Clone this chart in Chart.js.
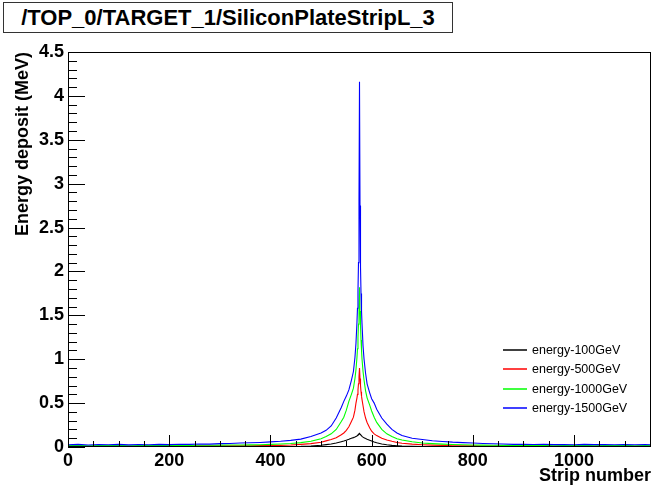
<!DOCTYPE html>
<html>
<head>
<meta charset="utf-8">
<script src="https://cdn.jsdelivr.net/npm/chart.js@4/dist/chart.umd.min.js"></script>
<style>
  html, body { margin: 0; padding: 0; background: #fff; }
  #wrap { position: relative; width: 653px; height: 489px; }
  #title {
    position: absolute; left: 3px; top: 2px; width: 450px; height: 31px;
    box-sizing: border-box; border: 1px solid #333;
    font: bold 22px "Liberation Sans", Arial, sans-serif; line-height: 29px;
    text-align: center; color: #000; background: #fff; z-index: 2;
  }
  canvas { position: absolute; left: 0; top: 0; }
</style>
</head>
<body>
<div id="wrap">
  <canvas id="c" width="653" height="489"></canvas>
  <div id="title">/TOP_0/TARGET_1/SiliconPlateStripL_3</div>
</div>
<script>
// ---- data ----
const strips = [0,20,40,60,80,100,120,140,160,180,200,220,240,260,280,300,320,340,
  360,380,400,420,440,460,480,500,
  510,520,530,540,545,550,555,560,
  564,567,569,
  571,572,573,574,575,576,577,578,579,580,581,
  583,585,588,591,
  596,600,605,610,
  620,630,640,650,660,
  680,700,720,740,760,
  780,800,820,840,860,880,900,
  920,940,960,980,1000,1020,1040,1060,1080,1100,1120,1140,1152];

const e100 = [0.003,0.003,0.002,0.003,0.003,0.002,0.003,0.003,0.003,0.002,0.003,0.003,0.003,0.003,0.003,0.003,0.004,0.004,
  0.004,0.004,0.005,0.005,0.006,0.007,0.011,0.02,
  0.027,0.035,0.045,0.06,0.068,0.078,0.088,0.1,
  0.107,0.114,0.12,
  0.126,0.132,0.138,0.144,0.15,0.155,0.148,0.141,0.134,0.128,0.122,
  0.112,0.105,0.096,0.088,
  0.078,0.068,0.056,0.048,
  0.035,0.026,0.019,0.014,0.01,
  0.007,0.005,0.004,0.004,0.003,
  0.003,0.003,0.003,0.003,0.003,0.003,0.003,
  0.003,0.003,0.003,0.003,0.003,0.003,0.003,0.003,0.003,0.003,0.003,0.003,0.003];

const e500 = [0.01,0.011,0.009,0.01,0.011,0.01,0.009,0.011,0.01,0.012,0.011,0.012,0.012,0.013,0.013,0.014,0.014,0.015,
  0.015,0.016,0.016,0.018,0.022,0.03,0.038,0.055,
  0.07,0.085,0.105,0.14,0.16,0.19,0.23,0.29,
  0.34,0.42,0.5,
  0.56,0.6,0.65,0.72,0.8,0.9,0.78,0.7,0.63,0.58,0.54,
  0.47,0.4,0.33,0.28,
  0.22,0.18,0.15,0.13,
  0.1,0.08,0.065,0.052,0.043,
  0.033,0.026,0.021,0.018,0.015,
  0.014,0.013,0.012,0.012,0.011,0.011,0.01,
  0.01,0.011,0.009,0.01,0.011,0.01,0.009,0.01,0.011,0.01,0.009,0.01,0.01];

const e1000 = [0.016,0.018,0.015,0.017,0.016,0.019,0.015,0.017,0.016,0.018,0.017,0.019,0.018,0.02,0.02,0.021,0.022,0.023,
  0.024,0.026,0.03,0.035,0.04,0.05,0.065,0.095,
  0.12,0.15,0.2,0.29,0.34,0.42,0.52,0.6,
  0.67,0.78,0.88,
  1.02,1.12,1.25,1.4,1.6,1.82,1.55,1.38,1.22,1.1,1.0,
  0.86,0.76,0.64,0.56,
  0.48,0.41,0.34,0.28,
  0.2,0.15,0.12,0.095,0.08,
  0.06,0.045,0.038,0.033,0.028,
  0.025,0.023,0.021,0.02,0.019,0.018,0.017,
  0.016,0.018,0.015,0.017,0.016,0.018,0.015,0.017,0.016,0.018,0.015,0.017,0.016];

const e1500 = [0.025,0.03,0.022,0.028,0.025,0.03,0.024,0.028,0.026,0.03,0.027,0.032,0.03,0.035,0.033,0.038,0.04,0.045,
  0.048,0.052,0.058,0.065,0.075,0.09,0.12,0.16,
  0.19,0.24,0.33,0.45,0.52,0.58,0.65,0.76,
  0.86,1.02,1.18,
  1.42,1.58,1.78,2.1,2.8,4.16,2.75,2.05,1.75,1.55,1.4,
  1.15,1.0,0.84,0.72,
  0.62,0.55,0.5,0.43,
  0.33,0.26,0.2,0.16,0.13,
  0.1,0.085,0.072,0.063,0.055,
  0.05,0.045,0.04,0.037,0.034,0.03,0.032,
  0.028,0.03,0.027,0.029,0.026,0.03,0.027,0.028,0.025,0.029,0.026,0.028,0.025];

const seriesNames = ['energy-100GeV','energy-500GeV','energy-1000GeV','energy-1500GeV'];
const seriesColors = ['#000000','#ff0000','#00ff00','#0000ff'];
const xTickValues = [0,200,400,600,800,1000];
const yTickValues = [0,0.5,1,1.5,2,2.5,3,3.5,4,4.5];
const xRange = [0, 1152];
const yRange = [0, 4.5];

// ---- build ----
const seriesValues = [e100, e500, e1000, e1500];
const datasets = seriesValues.map((vals, i) => ({
  label: seriesNames[i],
  data: strips.map((s, k) => ({x: s, y: vals[k]})),
  borderColor: seriesColors[i],
  backgroundColor: seriesColors[i],
  borderWidth: 1.1,
  pointRadius: 0,
  tension: 0,
  fill: false,
  order: 3 - i
}));

const FONT = '"Liberation Sans", Arial, sans-serif';

const rootFrame = {
  id: 'rootFrame',
  afterDraw(chart) {
    const {ctx, chartArea: a, scales: {x, y}} = chart;
    ctx.save();
    ctx.strokeStyle = '#000';
    ctx.lineWidth = 1;
    ctx.strokeRect(a.left + 0.5, a.top + 0.5, a.right - a.left - 1, a.bottom - a.top - 1);
    ctx.beginPath();
    // y-axis ticks (inward)
    for (let i = 0; i <= 45; i++) {
      const v = i / 10;
      const py = Math.round(y.getPixelForValue(v)) + 0.5;
      const len = (i % 5 === 0) ? 17 : 9;
      ctx.moveTo(a.left, py); ctx.lineTo(a.left + len, py);
    }
    // x-axis ticks (inward)
    for (let v = 0; v <= xRange[1]; v += 50) {
      const px = Math.round(x.getPixelForValue(v)) + 0.5;
      const len = (v % 200 === 0) ? 12 : 6;
      ctx.moveTo(px, a.bottom); ctx.lineTo(px, a.bottom - len);
    }
    ctx.stroke();
    // legend
    ctx.font = '12.5px ' + FONT;
    ctx.textBaseline = 'middle';
    ctx.textAlign = 'left';
    const rows = [350, 369, 389, 408];
    seriesNames.forEach((name, i) => {
      ctx.strokeStyle = seriesColors[i];
      ctx.lineWidth = 1.5;
      ctx.beginPath(); ctx.moveTo(503, rows[i]); ctx.lineTo(527, rows[i]); ctx.stroke();
      ctx.fillStyle = '#000';
      ctx.fillText(name, 532, rows[i] + 1);
    });
    ctx.restore();
  }
};

new Chart(document.getElementById('c'), {
  type: 'line',
  data: { datasets },
  options: {
    responsive: false,
    animation: false,
    events: [],
    layout: { padding: { top: 52, right: 2, left: 0, bottom: 0 } },
    plugins: { legend: { display: false }, tooltip: { enabled: false }, title: { display: false } },
    scales: {
      x: {
        type: 'linear', min: xRange[0], max: xRange[1],
        afterBuildTicks: s => { s.ticks = xTickValues.map(v => ({value: v})); },
        afterFit: s => { s.height = 42; },
        grid: { display: false, drawTicks: false },
        border: { display: false },
        ticks: { color: '#000', font: { family: FONT, size: 18, weight: 'bold' }, padding: 3,
                 maxRotation: 0, autoSkip: false, callback: v => String(v) },
        title: { display: true, text: 'Strip number', align: 'end', color: '#000',
                 font: { family: FONT, size: 18, weight: 'bold' }, padding: { top: 0, bottom: 2 } }
      },
      y: {
        type: 'linear', min: yRange[0], max: yRange[1],
        afterBuildTicks: s => { s.ticks = yTickValues.map(v => ({value: v})); },
        afterFit: s => { s.width = 68; },
        grid: { display: false, drawTicks: false },
        border: { display: false },
        ticks: { color: '#000', font: { family: FONT, size: 18, weight: 'bold' }, padding: 4,
                 autoSkip: false, callback: v => String(v) },
        title: { display: true, text: 'Energy deposit (MeV)', align: 'end', color: '#000',
                 font: { family: FONT, size: 18, weight: 'bold' }, padding: { top: 12, bottom: 0 } }
      }
    }
  },
  plugins: [rootFrame]
});
</script>
</body>
</html>
